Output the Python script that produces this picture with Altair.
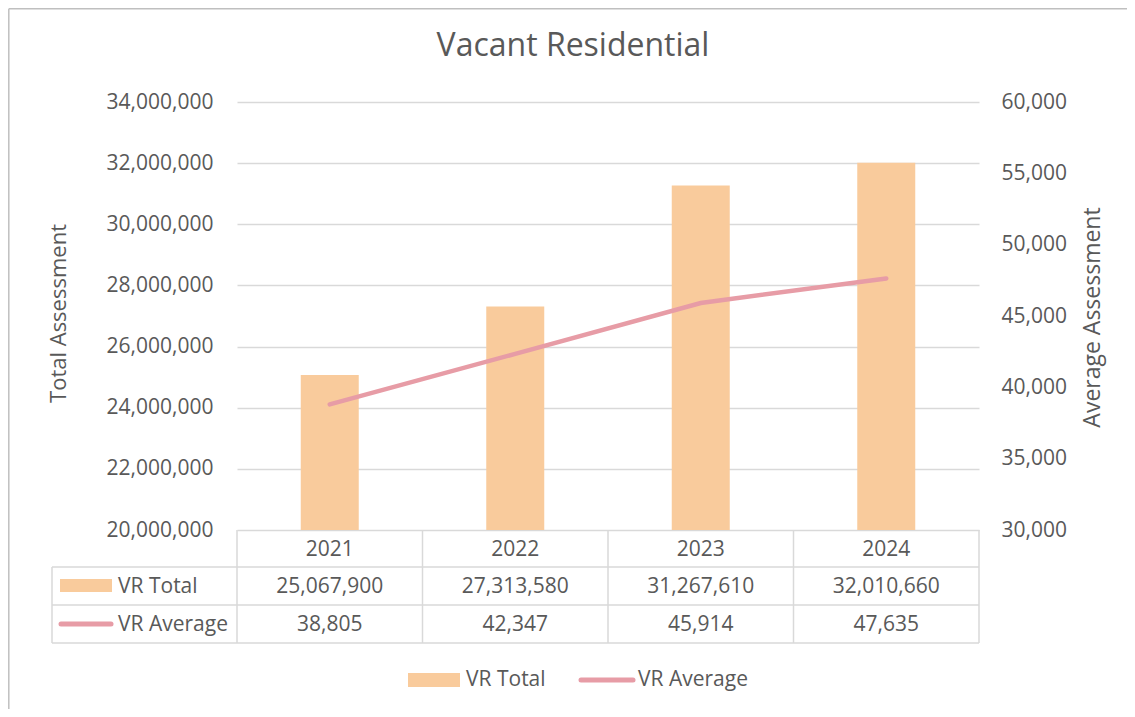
import altair as alt
import pandas as pd

# ---- data ----
years = ["2021", "2022", "2023", "2024"]
vr_total = [25067900, 27313580, 31267610, 32010660]
vr_average = [38805, 42347, 45914, 47635]
left_ticks = [20000000, 22000000, 24000000, 26000000, 28000000, 30000000, 32000000, 34000000]
right_ticks = [30000, 35000, 40000, 45000, 50000, 55000, 60000]

df = pd.DataFrame({"year": years, "total": vr_total, "average": vr_average})
one = pd.DataFrame({"k": [0]})

# ---- style ----
FONT = "Open Sans"
TXT = "#595959"
GRID = "#D9D9D9"
BAR = "#F9CB9C"
LINE = "#E79CA6"
BORDER = "#BFBFBF"
W, H = 742, 428
FS = 21

xscale = alt.Scale(paddingInner=0, paddingOuter=0)
X = alt.X("year:N", scale=xscale, axis=None, sort=years)

bars = alt.Chart(df).mark_bar(color=BAR, size=58).encode(
    x=X,
    y=alt.Y(
        "total:Q",
        scale=alt.Scale(domain=[20000000, 34000000], nice=False, zero=False),
        axis=alt.Axis(
            values=left_ticks, format=",d", grid=True, gridColor=GRID, gridWidth=1.5,
            domain=False, ticks=False, labelPadding=24, labelFontSize=FS, labelColor=TXT,
            title="Total Assessment", titleFontSize=22, titleColor=TXT, titleFontWeight="normal",
            titleAngle=270, titleX=-179, titleY=211, titleAlign="center", titleBaseline="middle",
        ),
    ),
    y2=alt.datum(20000000),
)

line = alt.Chart(df).mark_line(color=LINE, strokeWidth=4.5, strokeCap="round").encode(
    x=X,
    y=alt.Y(
        "average:Q",
        scale=alt.Scale(domain=[30000, 60000], nice=False, zero=False),
        axis=alt.Axis(
            orient="right", values=right_ticks, format=",d", grid=False,
            domain=False, ticks=False, labelPadding=22, labelFontSize=FS, labelColor=TXT,
            title="Average Assessment", titleFontSize=23, titleColor=TXT, titleFontWeight="normal",
            titleAngle=270, titleX=113, titleY=215, titleAlign="center", titleBaseline="middle",
        ),
    ),
)

plot = alt.layer(bars, line).resolve_scale(y="independent")

# ---- data table ----
txt = dict(fontSize=FS, color=TXT, baseline="middle", font=FONT)
header = alt.Chart(df).mark_text(**txt).encode(x=X, y=alt.value(448), text="year:N")
total_row = alt.Chart(df).mark_text(**txt).encode(
    x=X, y=alt.value(485), text=alt.Text("total:Q", format=",")
)
avg_row = alt.Chart(df).mark_text(**txt).encode(
    x=X, y=alt.value(523), text=alt.Text("average:Q", format=",")
)

vlines = alt.Chart(df).mark_rule(color=GRID, strokeWidth=1.5).encode(
    x=alt.X("year:N", scale=xscale, axis=None, sort=years, bandPosition=0),
    y=alt.value(428), y2=alt.value(541),
)
rule_style = dict(color=GRID, strokeWidth=1.5)
vright = alt.Chart(one).mark_rule(**rule_style).encode(
    x=alt.value(W), y=alt.value(428), y2=alt.value(541))
vleft = alt.Chart(one).mark_rule(**rule_style).encode(
    x=alt.value(-185), y=alt.value(465), y2=alt.value(541))
h1 = alt.Chart(one).mark_rule(**rule_style).encode(
    x=alt.value(-185), x2=alt.value(W), y=alt.value(465))
h2 = alt.Chart(one).mark_rule(**rule_style).encode(
    x=alt.value(-185), x2=alt.value(W), y=alt.value(503))
h3 = alt.Chart(one).mark_rule(**rule_style).encode(
    x=alt.value(-185), x2=alt.value(W), y=alt.value(541))

# table legend keys
tk_rect = alt.Chart(one).mark_rect(color=BAR).encode(
    x=alt.value(-177), x2=alt.value(-125), y=alt.value(477), y2=alt.value(490))
tk_rtxt = alt.Chart(one).mark_text(align="left", **txt).encode(
    x=alt.value(-119), y=alt.value(485), text=alt.value("VR Total"))
tk_line = alt.Chart(one).mark_rule(color=LINE, strokeWidth=5, strokeCap="round").encode(
    x=alt.value(-176), x2=alt.value(-126), y=alt.value(522))
tk_ltxt = alt.Chart(one).mark_text(align="left", **txt).encode(
    x=alt.value(-119), y=alt.value(523), text=alt.value("VR Average"))

# bottom legend
lg_rect = alt.Chart(one).mark_rect(color=BAR).encode(
    x=alt.value(171), x2=alt.value(223), y=alt.value(571), y2=alt.value(585))
lg_rtxt = alt.Chart(one).mark_text(align="left", **txt).encode(
    x=alt.value(229), y=alt.value(578), text=alt.value("VR Total"))
lg_line = alt.Chart(one).mark_rule(color=LINE, strokeWidth=5, strokeCap="round").encode(
    x=alt.value(344), x2=alt.value(396), y=alt.value(578))
lg_ltxt = alt.Chart(one).mark_text(align="left", **txt).encode(
    x=alt.value(401), y=alt.value(578), text=alt.value("VR Average"))

# title
title = alt.Chart(one).mark_text(fontSize=32, color=TXT, baseline="middle", font=FONT).encode(
    x=alt.value(336), y=alt.value(-56), text=alt.value("Vacant Residential"))

# chart border (left & top visible)
b_left = alt.Chart(one).mark_rule(color=BORDER, strokeWidth=1.5).encode(
    x=alt.value(-228.2), y=alt.value(-93.2), y2=alt.value(607))
b_top = alt.Chart(one).mark_rule(color=BORDER, strokeWidth=1.5).encode(
    x=alt.value(-228.2), x2=alt.value(890), y=alt.value(-93.2))

chart = alt.layer(
    plot, vlines, vright, vleft, h1, h2, h3,
    header, total_row, avg_row,
    tk_rect, tk_rtxt, tk_line, tk_ltxt,
    lg_rect, lg_rtxt, lg_line, lg_ltxt,
    title, b_left, b_top,
).properties(
    width=W, height=H,
    padding={"left": 229, "top": 94, "right": 148, "bottom": 179},
    autosize=alt.AutoSizeParams(type="none"),
    background="white",
).configure(font=FONT).configure_view(strokeWidth=0)

chart.save("out.html", embed_options={"renderer": "svg", "actions": False})
